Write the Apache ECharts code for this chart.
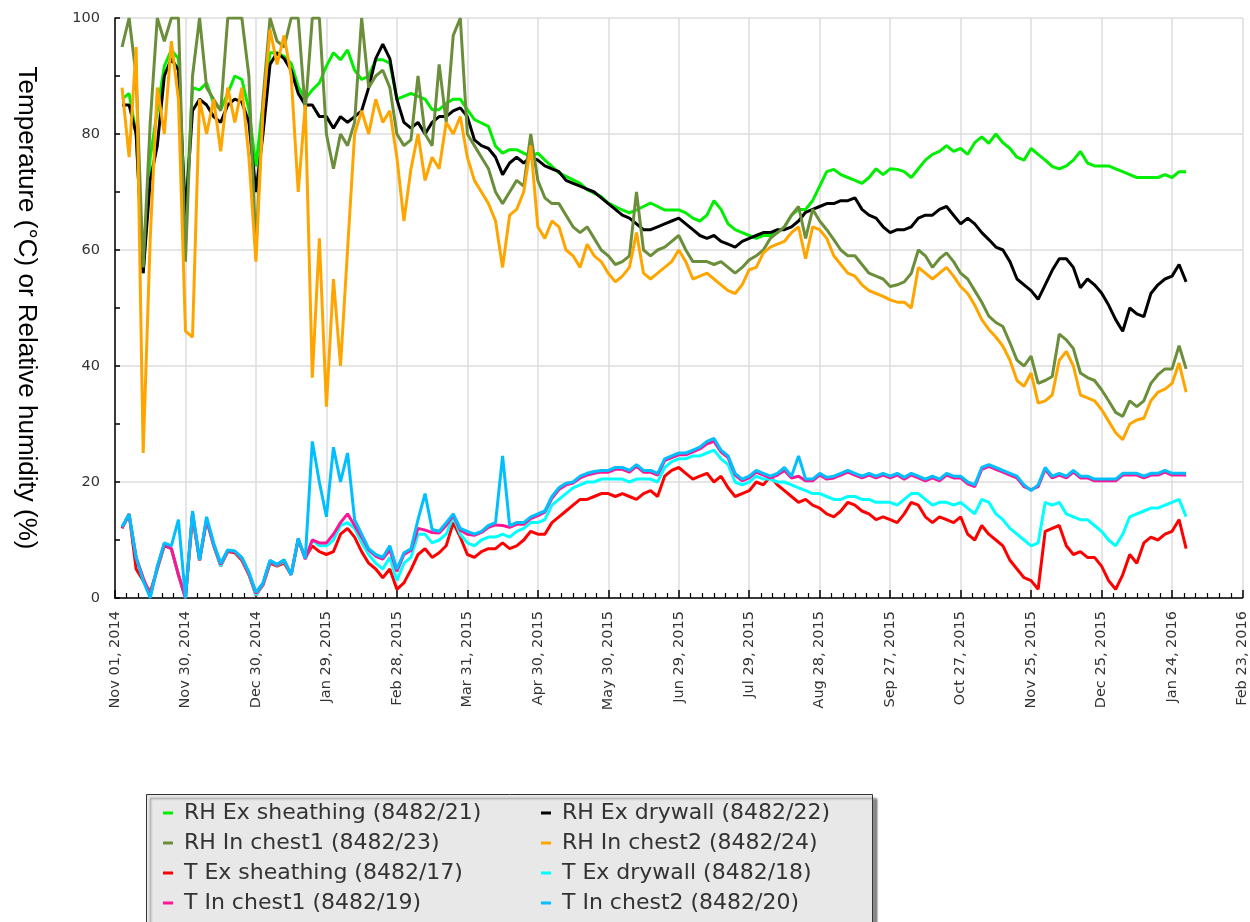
<!DOCTYPE html>
<html><head><meta charset="utf-8">
<script src="https://cdn.jsdelivr.net/npm/echarts@6/dist/echarts.min.js"></script>
<style>html,body{margin:0;padding:0;background:#fff}#c{width:1250px;height:922px}</style>
</head><body><div id="c"></div>
<script>
// x tick labels, one every 30 days starting Nov 01, 2014 (axis values are days since then)
const xTickLabels = ['Nov 01, 2014','Nov 30, 2014','Dec 30, 2014','Jan 29, 2015','Feb 28, 2015','Mar 31, 2015','Apr 30, 2015','May 30, 2015','Jun 29, 2015','Jul 29, 2015','Aug 28, 2015','Sep 27, 2015','Oct 27, 2015','Nov 25, 2015','Dec 25, 2015','Jan 24, 2016','Feb 23, 2016'];
// samples every STEP_DAYS days, first one at START_DAY
const START_DAY = 3, STEP_DAYS = 3;

const rhExSheathing = [86,87,80,56,76,84,91.7,94.5,93, 65,88,87.6,88.8,85.3,84.2,87,90,89.4,84.2, 74.4,85.3,94,94,93.4,92.2,88.2,86,87.6,88.8, 91.7,94,92.8,94.5,91,89.4,90,92.8,92.8,92.2, 86,86.5,87,86.5,86,84.2,84.2,85.3,86,86, 84.2,82.5,81.9,81.3,77.9,76.7,77.3,77.3,76.7,76.1, 76.7,75.5,74.4,73.3,72.7,72.1,71.5,70.4,69.8,69.2, 68.1,67.5,66.9,66.4,66.9,67.5,68.1,67.5,66.9,66.9, 66.9,66.4,65.5,65,66,68.5,67,64.5,63.5,63, 62.5,62,62.5,62.5,63,64,66,67,67,68.5, 71,73.5,73.9,73,72.5,72,71.5,72.5,74,73, 74,73.9,73.5,72.5,74,75.5,76.5,77,78,77, 77.5,76.5,78.5,79.5,78.4,80,78.5,77.5,76,75.5, 77.5,76.5,75.5,74.4,74,74.5,75.5,77,75,74.5, 74.5,74.5,74,73.5,73,72.5,72.5,72.5,72.5,73, 72.5,73.5,73.5];
const rhExDrywall = [85,85,80,56,72,78,90,93,91, 66,84,86,85,83,82,85,86,85.5,82, 70,80,92,94,93,91,87,85,85,83, 83,81,83,82,83,84,88,93,95.5,93, 86,82,81,82,80,82,83,83,84,84.5, 83,79,78,77.5,76,73,75,76,75,76, 75.5,74.5,74,73.5,72,71.5,71,70.5,70,69, 68,67,66,65.5,64.5,63.5,63.5,64,64.5,65, 65.5,64.5,63.5,62.5,62,62.5,61.5,61,60.5,61.5, 62,62.5,63,63,63.5,63.5,64,65,66.5,67, 67.5,68,68,68.5,68.5,69,67,66,65.5,64, 63,63.5,63.5,64,65.5,66,66,67,67.5,66, 64.5,65.5,64.5,63,61.8,60.5,60,58,55,54, 53,51.5,54,56.5,58.5,58.5,57,53.5,55,54, 52.6,50.5,48,46,50,49,48.5,52.5,54,55, 55.5,57.5,54.5];
const rhInChest1 = [95,100,90,57,82,100,96,100,100, 58,90,100,88,86,84,100,100,100,90, 60,86,100,96,95,100,100,84,100,100, 80,74,80,78,82,100,88,90,91,88, 80,78,79,90,80,78,92,82,97,100, 80,78,76,74,70,68,70,72,71,80, 72,69,68,68,66,64,63,64,62,60, 59,57.5,58,59,70,60,59,60,60.5,61.5, 62.5,60,58,58,58,57.5,58,57,56,57, 58.3,59,60,62,63,64,66,67.5,62,67, 65,63.5,61.8,60,59,59,57.5,56,55.5,55, 53.7,54,54.5,56,60,59,57,58.5,59.5,58, 56,55,53,51,48.6,47.5,46.8,44,41,40, 41.7,37,37.5,38.2,45.5,44.5,43,38.8,38,37.5, 35.9,34,32,31.3,34,33,34,37,38.5,39.5, 39.5,43.5,39.5];
const rhInChest2 = [88,76,95,25,62,88,80,96,86, 46,45,86,80,86,77,88,82,88,76, 58,84,98,92,97,90,70,85,38,62, 33,55,40,60,80,84,80,86,82,84, 76,65,74,80,72,76,74,82,80,83, 76,72,70,68,65,57,66,67,70,78, 64,62,65,64,60,59,57,61,59,58, 56,54.5,55.5,57,63,56,55,56,57,58, 60,58,55,55.5,56,55,54,53,52.5,54, 56.6,57,59.5,60.5,61,61.5,63,64,58.5,64, 63.5,62,59,57.5,56,55.5,54,53,52.5,52, 51.4,51,51,50,57,56,55,56,57,55.5, 53.7,52.5,50.5,48,46.3,45,43.4,41,37.5,36.5, 38.8,33.6,34,35,41,42.5,40,35,34.5,34, 32.5,30.5,28.5,27.3,30,30.7,31,34,35.5,36, 37,40.5,35.5];
const tExSheathing = [12,14.5,5,3,1,5,9,8.5,4, 0,14,6.5,13.5,9,5.5,8,7.8,6.5,4, 0.5,2.2,6,5.5,6,4,10,7,9,8, 7.5,8,11,12,10.5,8,6,5,3.5,5, 1.5,2.6,4.9,7.5,8.5,7,7.8,9,13,10.5, 7.5,7,8,8.5,8.5,9.5,8.5,9,10,11.5, 11,11,13,14,15,16,17,17,17.5,18, 18,17.5,18,17.5,17,18,18.5,17.5,21,22, 22.5,21.5,20.5,21,21.5,20,21,19,17.5,18, 18.5,20,19.5,21,19.5,18.5,17.5,16.5,17,16, 15.5,14.5,14,15,16.5,16,15,14.5,13.5,14, 13.5,13,14.5,16.5,16,14,13,14,13.5,13, 14,11,10,12.5,11,10,9,6.5,5,3.5, 3,1.5,11.5,12,12.5,9,7.5,8,7,7, 5.5,3,1.5,4,7.5,6,9.5,10.5,10,11, 11.5,13.5,8.5];
const tExDrywall = [12.2,14.3,7,3.2,0.5,5,9.3,8.5,4, 0,14.5,6.5,13.5,9,5.5,8.2,8,6.8,4.2, 0.5,2.4,6.3,5.6,6.3,4,10.1,6.8,10,9, 9,10,12.5,13,12,9.5,7.5,6,5,7, 3,6,7,11,11,9.5,10,11,14,11, 9.5,9,10,10.5,10.5,11,10.5,11.5,12,13, 13,13.5,16,17,18,19,19.5,20,20,20.5, 20.5,20.5,20.5,20,20.5,20.5,20.5,20,22.5,23.5, 24,24,24.5,24.5,25,25.5,24,23,20,19.5, 20,21,20.5,20.5,20,20,19.5,19,18.5,18, 18,17.5,17,17,17.5,17.5,17,17,16.5,16.5, 16.5,16,17,18,18,17,16,16.5,16.5,16, 16.5,15.5,14.5,17,16.5,14.5,13.5,12,11,10, 9,9.5,16.5,16,16.5,14.5,14,13.5,13.5,12.5, 11.5,10,9,11,14,14.5,15,15.5,15.5,16, 16.5,17,14];
const tInChest1 = [12.2,14.3,7,3.5,0.3,5.2,9.4,8.5,4, 0,14.8,6.5,13.5,9.2,5.8,8.2,8,6.9,4.3, 0.8,2.5,6.4,5.7,6.5,4,10.2,6.7,10,9.5, 9.5,11,13,14.5,12.5,10.5,8.3,7.2,6.7,8.3, 4.6,7.5,8.2,12,11.7,11.3,11.2,12.5,14.3,11.7, 11,10.8,11.3,12.2,12.6,12.5,12.2,12.7,12.7,13.7, 14.2,14.8,17.2,18.7,19.5,19.8,20.7,21.2,21.5,21.7, 21.7,22.2,22.2,21.7,22.7,21.7,21.7,21.2,23.7,24.2, 24.7,24.7,25.2,25.7,26.6,27,25.2,24.2,21.2,20.2, 20.7,21.7,21.2,20.7,21.2,22,20.7,21,20.2,20.2, 21.2,20.5,20.7,21.2,21.7,21.2,20.7,21.2,20.7,21.2, 20.7,21.2,20.5,21.2,20.7,20.2,20.7,20.2,21.2,20.7, 20.7,19.7,19.2,22.2,22.7,22.2,21.7,21.2,20.7,19.2, 18.7,19.2,22.2,20.7,21.2,20.7,21.7,20.7,20.7,20.2, 20.2,20.2,20.2,21.2,21.2,21.2,20.7,21.2,21.2,21.7, 21.2,21.2,21.2];
const tInChest2 = [12.3,14.5,7,3,0,5.5,9.5,9,13.5, 0,15,6.6,14,9.5,6,8.3,8.1,7,4.5, 1,2.6,6.5,5.8,6.6,4,10.3,6.8,27,20, 14,26,20,25,13.5,11,8.5,7.5,7,9, 5,7.8,8.5,13.5,18,11.8,11.5,13,14.5,12, 11.5,11,11.5,12.5,13,24.5,12.5,13,13,14, 14.5,15,17.5,19,19.8,20,21,21.5,21.8,22, 22,22.5,22.5,22,23,22,22,21.5,24,24.5, 25,25,25.5,26,27,27.5,25.5,24.5,21.5,20.5, 21,22,21.5,21,21.5,22.5,21,24.5,20.5,20.5, 21.5,20.8,21,21.5,22,21.5,21,21.5,21,21.5, 21,21.5,20.8,21.5,21,20.5,21,20.5,21.5,21, 21,20,19.5,22.5,23,22.5,22,21.5,21,19.5, 18.5,19.5,22.5,21,21.5,21,22,21,21,20.5, 20.5,20.5,20.5,21.5,21.5,21.5,21,21.5,21.5,22, 21.5,21.5,21.5];

function toPoints(arr) { return arr.map((v, i) => [START_DAY + i * STEP_DAYS, v]); }

const seriesDefs = [
  { name: 'RH Ex sheathing (8482/21)', data: rhExSheathing, color: '#00ee00' },
  { name: 'RH Ex drywall (8482/22)', data: rhExDrywall, color: '#000000' },
  { name: 'RH In chest1 (8482/23)', data: rhInChest1, color: '#6b8e3a' },
  { name: 'RH In chest2 (8482/24)', data: rhInChest2, color: '#ffa500' },
  { name: 'T Ex sheathing (8482/17)', data: tExSheathing, color: '#ff0000' },
  { name: 'T Ex drywall (8482/18)', data: tExDrywall, color: '#00ffff' },
  { name: 'T In chest1 (8482/19)', data: tInChest1, color: '#ff1493' },
  { name: 'T In chest2 (8482/20)', data: tInChest2, color: '#00bfff' }
];

const chart = echarts.init(document.getElementById('c'), null, { renderer: 'canvas' });
const legendText = { fontFamily: 'DejaVu Sans', fontSize: 22, color: '#333', lineHeight: 22, padding: [0, 0, 0, 6] };
const legendBase = { orient: 'vertical', top: 797, itemWidth: 10, itemHeight: 3, itemGap: 8, icon: 'rect', textStyle: legendText, z: 5, selectedMode: false };

chart.setOption({
  animation: false,
  backgroundColor: '#fff',
  grid: { left: 115, right: 6, top: 18, bottom: 324 },
  graphic: [{
    type: 'rect', left: 146, top: 794, z: 1,
    shape: { width: 726, height: 150 },
    style: { fill: '#e8e8e8', stroke: '#333', lineWidth: 1, shadowColor: 'rgba(0,0,0,0.45)', shadowOffsetX: 4, shadowOffsetY: 4, shadowBlur: 2 }
  }],
  legend: [
    Object.assign({}, legendBase, { left: 158, data: [seriesDefs[0].name, seriesDefs[2].name, seriesDefs[4].name, seriesDefs[6].name] }),
    Object.assign({}, legendBase, { left: 536, data: [seriesDefs[1].name, seriesDefs[3].name, seriesDefs[5].name, seriesDefs[7].name] })
  ],
  xAxis: {
    type: 'value', min: 0, max: 480, interval: 30,
    axisLine: { show: true, onZero: false, lineStyle: { color: '#000', width: 1.5 } },
    axisTick: { show: true, inside: true, length: 8, lineStyle: { color: '#000', width: 1.5 } },
    minorTick: { show: true, splitNumber: 6, length: 5, lineStyle: { color: '#000', width: 1.2 } },
    splitLine: { show: true, lineStyle: { color: '#dcdcdc', width: 1.5 } },
    axisLabel: { rotate: 90, margin: 13, fontFamily: 'DejaVu Sans', fontSize: 14.5, color: '#333',
      formatter: v => xTickLabels[Math.round(v / 30)] || '' }
  },
  yAxis: {
    type: 'value', min: 0, max: 100, interval: 20,
    name: 'Temperature (°C) or Relative humidity (%)', nameLocation: 'middle', nameGap: 76, nameRotate: -90,
    nameTextStyle: { fontFamily: 'Liberation Sans', fontSize: 26, color: '#000' },
    axisLine: { show: true, lineStyle: { color: '#000', width: 1.5 } },
    axisTick: { show: true, inside: true, length: 5, lineStyle: { color: '#000', width: 1.5 } },
    minorTick: { show: true, splitNumber: 2, length: 5, lineStyle: { color: '#000', width: 1.5 } },
    splitLine: { show: true, lineStyle: { color: '#dcdcdc', width: 1.5 } },
    axisLabel: { margin: 15, fontFamily: 'DejaVu Sans', fontSize: 14.5, color: '#333' }
  },
  series: seriesDefs.map(s => ({
    name: s.name, type: 'line', data: toPoints(s.data), showSymbol: false, symbol: 'none',
    lineStyle: { width: 3, color: s.color }, itemStyle: { color: s.color }, emphasis: { disabled: true }
  }))
});
</script></body></html>
